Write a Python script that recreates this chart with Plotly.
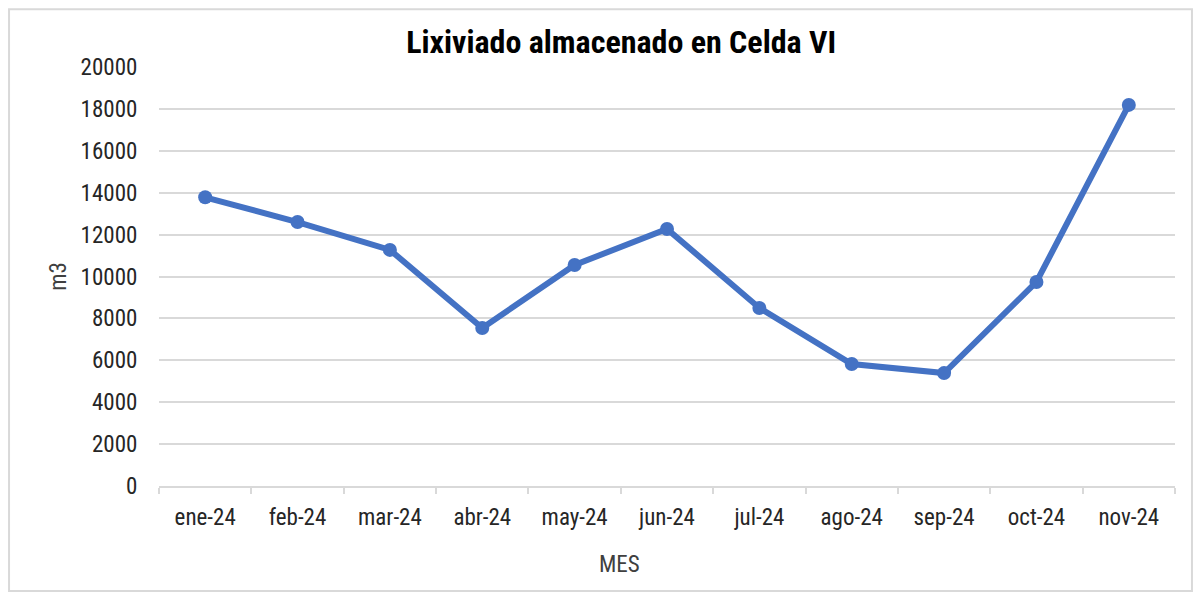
import plotly.graph_objects as go

months = ["ene-24", "feb-24", "mar-24", "abr-24", "may-24", "jun-24",
          "jul-24", "ago-24", "sep-24", "oct-24", "nov-24"]
volumes = [13780, 12600, 11270, 7540, 10550, 12270, 8500, 5820, 5390, 9740, 18190]
y_ticks = list(range(0, 20001, 2000))

title_text = "Lixiviado almacenado en Celda VI"
x_title = "MES"
y_title = "m3"

FONT = "Liberation Sans Narrow, Arial Narrow, Roboto Condensed, Liberation Sans, sans-serif"
BLUE = "#4472C4"
GRID = "#d9d9d9"

fig = go.Figure()
fig.add_trace(go.Scatter(
    x=months, y=volumes, mode="lines+markers",
    line=dict(color=BLUE, width=6),
    marker=dict(color=BLUE, size=14),
    showlegend=False, hoverinfo="x+y",
))

fig.update_layout(
    width=1186, height=585,
    margin=dict(l=151, r=19, t=59, b=107),
    paper_bgcolor="white", plot_bgcolor="white",
    font=dict(family=FONT, size=23, color="#404040"),
    title=dict(text="<b>" + title_text + "</b>", x=0.517, xanchor="center",
               y=0.942, yanchor="middle",
               font=dict(family=FONT, size=32, color="#000000")),
    shapes=[dict(type="rect", xref="paper", yref="paper",
                 x0=-0.1476, x1=1.0167, y0=-0.2506, y1=1.138,
                 line=dict(color="#d9d9d9", width=2), fillcolor="rgba(0,0,0,0)",
                 layer="below")],
    annotations=[dict(text=x_title, xref="paper", yref="paper", x=0.453, y=-0.1885,
                      xanchor="center", yanchor="middle", showarrow=False,
                      font=dict(family=FONT, size=23, color="#404040"))],
)

fig.update_xaxes(
    type="category", range=[-0.5, len(months) - 0.5],
    tickson="boundaries", ticks="outside", ticklen=6,
    tickcolor=GRID, tickwidth=2, showgrid=False, showline=True,
    linecolor=GRID, linewidth=2, ticklabelstandoff=9,
    tickfont=dict(family=FONT, size=23, color="#262626"),
)
fig.update_yaxes(
    range=[0, 20000], tickvals=y_ticks, ticktext=[str(v) for v in y_ticks],
    showgrid=True, gridcolor=GRID, gridwidth=2, zeroline=False,
    ticks="outside", ticklen=16, tickcolor="rgba(0,0,0,0)",
    tickfont=dict(family=FONT, size=23, color="#262626"),
    title=dict(text=y_title, font=dict(family=FONT, size=23, color="#404040"), standoff=7),
)

fig.write_html("out.html")
